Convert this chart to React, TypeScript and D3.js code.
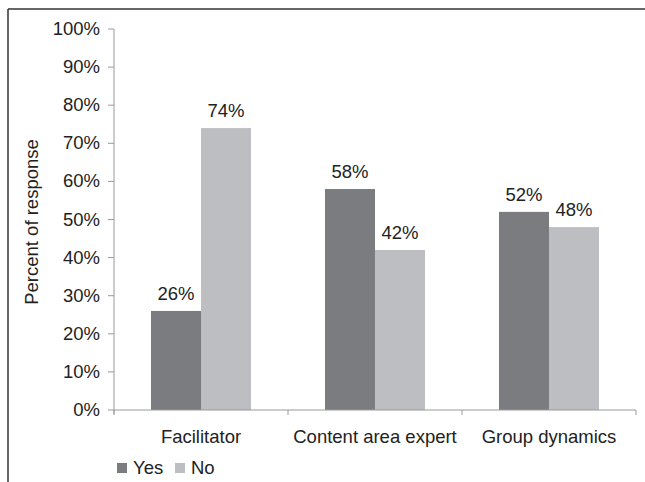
import React from "react";
import * as d3 from "d3";

const categories = ["Facilitator", "Content area expert", "Group dynamics"];
const seriesNames = ["Yes", "No"];
const yesValues = [26, 58, 52];
const noValues = [74, 42, 48];
const yTicks = [0, 10, 20, 30, 40, 50, 60, 70, 80, 90, 100];
const colors = ["#7b7c80", "#bdbec2"];

export default function App() {
  const W = 645, H = 482;
  const left = 114, right = 636, top = 29, bottom = 410;
  const x = d3.scaleBand().domain(categories).range([left, right]).paddingInner(0).paddingOuter(0);
  const y = d3.scaleLinear().domain([0, 100]).range([bottom, top]);
  const barW = 50;
  const font = "'Liberation Sans', Arial, Helvetica, sans-serif";
  const fs = 18.5;
  const series = [yesValues, noValues];
  const axisColor = "#9a9a9a";
  const boundaries = [...categories.map((c) => x(c) as number), right];
  const legendX = [117, 175];

  return (
    <svg width={W} height={H} style={{ position: "absolute", left: 0, top: 0 }} fontFamily={font}>
      <rect x={0} y={0} width={W} height={H} fill="#fff" />
      {/* border */}
      <line x1={8} y1={9} x2={W} y2={9} stroke="#333" strokeWidth={1.5} />
      <line x1={8} y1={9} x2={8} y2={H} stroke="#333" strokeWidth={1.5} />

      {/* bars */}
      {categories.map((c, i) => {
        const cx = (x(c) as number) + x.bandwidth() / 2;
        return series.map((vals, s) => {
          const bx = cx - barW + s * barW;
          return (
            <g key={c + s}>
              <rect x={bx} y={y(vals[i])} width={barW} height={bottom - y(vals[i])} fill={colors[s]} />
              <text x={bx + barW / 2} y={y(vals[i]) - 11} textAnchor="middle" fontSize={fs} fill="#222">
                {vals[i]}%
              </text>
            </g>
          );
        });
      })}

      {/* y axis */}
      <line x1={left} y1={top} x2={left} y2={bottom + 4} stroke={axisColor} strokeWidth={1} />
      {yTicks.map((t) => (
        <g key={t}>
          <line x1={left - 6} x2={left} y1={y(t)} y2={y(t)} stroke={axisColor} />
          <text x={100} y={y(t) + 6} textAnchor="end" fontSize={fs} fill="#222">
            {t}%
          </text>
        </g>
      ))}

      {/* x axis */}
      <line x1={left} y1={bottom} x2={right} y2={bottom} stroke={axisColor} />
      {boundaries.map((b, i) => (
        <line key={i} x1={b} x2={b} y1={bottom} y2={bottom + 5} stroke={axisColor} />
      ))}
      {categories.map((c) => (
        <text key={c} x={(x(c) as number) + x.bandwidth() / 2} y={443} textAnchor="middle" fontSize={fs} fill="#222">
          {c}
        </text>
      ))}

      {/* y title */}
      <text transform={`translate(38,222) rotate(-90)`} textAnchor="middle" fontSize={fs} fill="#222">
        Percent of response
      </text>

      {/* legend */}
      {seriesNames.map((n, i) => {
        const lx = legendX[i];
        return (
          <g key={n}>
            <rect x={lx} y={463} width={10} height={10} fill={colors[i]} />
            <text x={lx + 16} y={474} fontSize={fs} fill="#222">
              {n}
            </text>
          </g>
        );
      })}
    </svg>
  );
}
